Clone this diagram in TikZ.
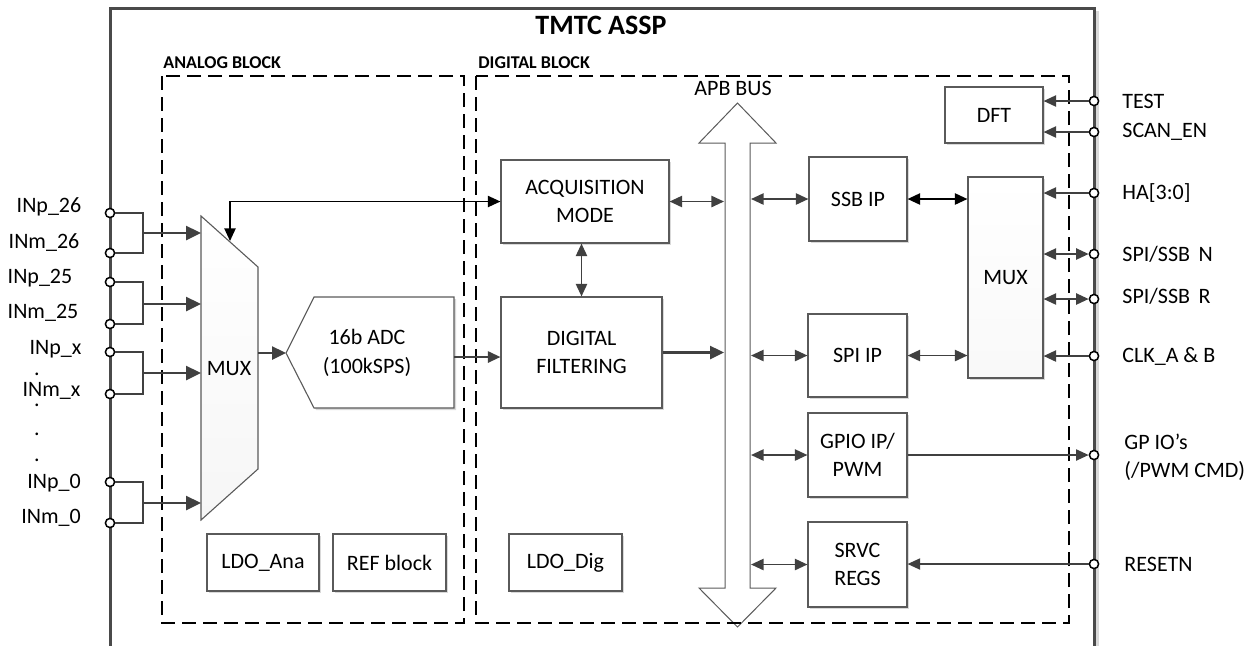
\documentclass[tikz,border=0pt]{standalone}
\usepackage{fontspec}
\setmainfont{Carlito}
\usetikzlibrary{arrows.meta,shadows}
\definecolor{wirec}{HTML}{404040}
\definecolor{edgec}{HTML}{5A5A5A}
\definecolor{framec}{HTML}{4A4A4A}
\begin{document}
\begin{tikzpicture}[x=0.5pt,y=-0.5pt,
  every node/.style={font=\fontsize{11}{14.2}\selectfont},
  >={Triangle[length=6.3pt,width=5.6pt]},
  box/.style={draw=edgec, line width=0.55pt, fill=white, inner sep=0pt, align=center,
    drop shadow={shadow xshift=1.1pt, shadow yshift=-1.1pt, opacity=0.15, fill=black}},
  pin/.style={circle, draw=black, fill=white, line width=0.75pt, minimum size=4.6pt, inner sep=0pt},
  wire/.style={draw=wirec, line width=1.25pt},
  bigtip/.style={-{Triangle[length=7.5pt,width=7pt]}},
  link/.style={draw=wirec, line width=0.95pt},
  thinlink/.style={draw=wirec, line width=0.75pt},
  lbl/.style={inner sep=0pt},
  blktitle/.style={font=\fontsize{9}{11}\selectfont\bfseries, anchor=west, inner sep=0pt},
  blkdash/.style={draw=black, line width=1pt, dash pattern=on 7pt off 3.5pt},
]
\useasboundingbox (0,0) rectangle (1251,645);
\clip (0,0) rectangle (1251,645);

% chip frame (open at the bottom)
\draw[gray!30, line width=1.5pt] (1097,11) -- (1097,660);
\draw[framec, line width=1.5pt] (110,660) -- (110,8) -- (1094,8) -- (1094,660);
\node[font=\fontsize{14}{16}\selectfont\bfseries] (title) at (601,25) {TMTC ASSP};

% APB bus (double-headed block arrow)
\draw[draw=edgec, fill=white, line width=0.5pt]
  (737.5,103) -- (776,143) -- (750,143) -- (750,588) -- (776,588) -- (737.5,627)
  -- (699,588) -- (725,588) -- (725,143) -- (699,143) -- cycle;
\node (apb) at (733,88) {APB BUS};
\coordinate (busL) at (724,0);
\coordinate (busR) at (751,0);

% analog and digital block outlines
\draw[blkdash] (162,76) rectangle (464,623);
\draw[blkdash] (476,76) rectangle (1069,623);
\node[blktitle] (anat) at (163,63) {ANALOG BLOCK};
\node[blktitle] (digt) at (478,63) {DIGITAL BLOCK};

% input multiplexer
\shade[top color=white, bottom color=gray!7] (201,216) -- (258,267) -- (258,469) -- (201,520) -- cycle;
\draw[draw=edgec, line width=0.55pt] (201,216) -- (258,267) -- (258,469) -- (201,520) -- cycle;
\node (mux) at (229,369) {MUX};
\coordinate (muxout) at (258,353);
\coordinate (fbtip) at (230,241);

% ADC
\draw[draw=edgec, fill=white, line width=0.55pt,
  drop shadow={shadow xshift=1.1pt, shadow yshift=-1.1pt, opacity=0.15, fill=black}]
  (286,353) -- (314,297) -- (454,297) -- (454,408) -- (314,408) -- cycle;
\node[align=center] (adc) at (367,353) {16b ADC\\(100kSPS)};
\coordinate (adcin) at (286,353);
\coordinate (adcout) at (454,357);

% blocks
\node[box, minimum width=84pt, minimum height=41.5pt] (acq) at (585,201.5) {ACQUISITION\\MODE};
\node[box, minimum width=80.5pt, minimum height=55.5pt] (dig) at (581.5,352.5) {DIGITAL\\FILTERING};
\node[box, minimum width=49pt, minimum height=28pt] (dft) at (994,115) {DFT};
\node[box, minimum width=49pt, minimum height=42pt] (ssb) at (858,199) {SSB IP};
\node[box, minimum width=49.5pt, minimum height=41.5pt] (spi) at (857.5,355.5) {SPI IP};
\node[box, top color=white, bottom color=gray!5, minimum width=37.5pt, minimum height=100.5pt] (rmux) at (1005.5,277.5) {MUX};
\node[box, minimum width=49.5pt, minimum height=42pt] (gpio) at (857.5,455) {GPIO IP/\\PWM};
\node[box, minimum width=49.5pt, minimum height=42.5pt] (srvc) at (857.5,564.5) {SRVC\\REGS};
\node[box, minimum width=56pt, minimum height=28.5pt] (ldoa) at (263,562.5) {LDO\_Ana};
\node[box, minimum width=56.5pt, minimum height=28.5pt] (refb) at (389.5,562.5) {REF block};
\node[box, minimum width=56.5pt, minimum height=28.5pt] (ldod) at (565.5,562.5) {LDO\_Dig};

% left input pins
\node[pin] (ip26) at (110,213) {};
\node[pin] (im26) at (110,253) {};
\node[pin] (ip25) at (110,282) {};
\node[pin] (im25) at (110,324) {};
\node[pin] (ipx) at (110,352) {};
\node[pin] (imx) at (110,394) {};
\node[pin] (ip0) at (110,482) {};
\node[pin] (im0) at (110,523) {};

\node[lbl] (tip26) at (49,207) {INp\_26};
\node[lbl] (tim26) at (44,243) {INm\_26};
\node[lbl] (tip25) at (40,278) {INp\_25};
\node[lbl] (tim25) at (43,313) {INm\_25};
\node[lbl, anchor=base] (tipx) at (55.5,354) {\raisebox{0pt}[\height][0pt]{INp\_x}};
\node[lbl, anchor=base] (timx) at (51.5,396) {\raisebox{0pt}[\height][0pt]{INm\_x}};
\node[lbl, anchor=base] (dot1) at (37,375) {.};
\node[lbl, anchor=base] (dot2) at (37,406) {.};
\node[lbl, anchor=base] (dot3) at (37,435) {.};
\node[lbl, anchor=base] (dot4) at (37,461) {.};
\node[lbl] (tip0) at (54,483) {INp\_0};
\node[lbl] (tim0) at (51,518) {INm\_0};

% differential pairs into the multiplexer
\coordinate (j26) at (143,233);
\coordinate (j25) at (143,304);
\coordinate (jx) at (143,373);
\coordinate (j0) at (143,503);
\coordinate (mi26) at (201,233);
\coordinate (mi25) at (201,304);
\coordinate (mix) at (201,373);
\coordinate (mi0) at (201,503);
\draw[wire] (ip26.east) -| (j26) |- (im26.east);
\draw[wire] (ip25.east) -| (j25) |- (im25.east);
\draw[wire] (ipx.east) -| (jx) |- (imx.east);
\draw[wire] (ip0.east) -| (j0) |- (im0.east);
\draw[wire, bigtip] (j26) -- (mi26);
\draw[wire, bigtip] (j25) -- (mi25);
\draw[wire, bigtip] (jx) -- (mix);
\draw[wire, bigtip] (j0) -- (mi0);

% analog to digital data path
\draw[wire, -{Triangle[length=7pt,width=6.5pt]}] (muxout) -- (adcin);
\draw[link, line width=1.1pt, ->] (adcout) -- (adcout -| dig.west);
\draw[black, line width=0.8pt, <->] (acq.west) -| (fbtip);
\draw[link, <->] (dig.north) -- (dig.north |- acq.south);
\draw[link, <->] (acq.east) -- (acq.east -| busL);
\draw[wire, -{Triangle[length=7pt,width=6.5pt]}] (dig.east) -- (dig.east -| busL);

% bus peripherals
\draw[link, <->] (busR |- ssb.west) -- (ssb.west);
\draw[black, line width=0.95pt, <->] (ssb.east) -- (ssb.east -| rmux.west);
\draw[link, <->] (busR |- spi.west) -- (spi.west);
\draw[link, <->] (spi.east) -- (spi.east -| rmux.west);
\draw[link, <->] (busR |- gpio.west) -- (gpio.west);
\draw[link, <->] (busR |- srvc.west) -- (srvc.west);

% right side pins
\node[pin] (ptest) at (1094,101) {};
\node[pin] (pscan) at (1094,132) {};
\node[pin] (pha) at (1094,193) {};
\node[pin] (pspin) at (1094,254) {};
\node[pin] (pspir) at (1094,299) {};
\node[pin] (pclk) at (1094,356) {};
\node[pin] (pgpio) at (1094,455) {};
\node[pin] (prst) at (1094,564) {};

\draw[link, ->] (ptest.west) -- (ptest.west -| dft.east);
\draw[link, ->] (pscan.west) -- (pscan.west -| dft.east);
\draw[link, ->] (pha.west) -- (pha.west -| rmux.east);
\draw[link, <->] (rmux.east |- pspin.west) -- (pspin.west);
\draw[link, <->] (rmux.east |- pspir.west) -- (pspir.west);
\draw[link, ->] (pclk.west) -- (pclk.west -| rmux.east);
\draw[thinlink, ->] (gpio.east) -- (pgpio.west);
\draw[thinlink, ->] (prst.west) -- (prst.west -| srvc.east);

\node[lbl, anchor=west] (ttest) at (1122,101) {TEST};
\node[lbl, anchor=west] (tscan) at (1122,132) {SCAN\_EN};
\node[lbl, anchor=west] (tha) at (1122,193) {HA[3:0]};
\node[lbl, anchor=west] (tspin) at (1122,254) {SPI/SSB\, N};
\node[lbl, anchor=west] (tspir) at (1122,296) {SPI/SSB\, R};
\node[lbl, anchor=west] (tclk) at (1122,356) {CLK\_A \& B};
\node[lbl, anchor=west, align=left] (tgpio) at (1124,457) {GP IO’s\\(/PWM CMD)};
\node[lbl, anchor=west] (trst) at (1124,564) {RESETN};
\end{tikzpicture}
\end{document}
